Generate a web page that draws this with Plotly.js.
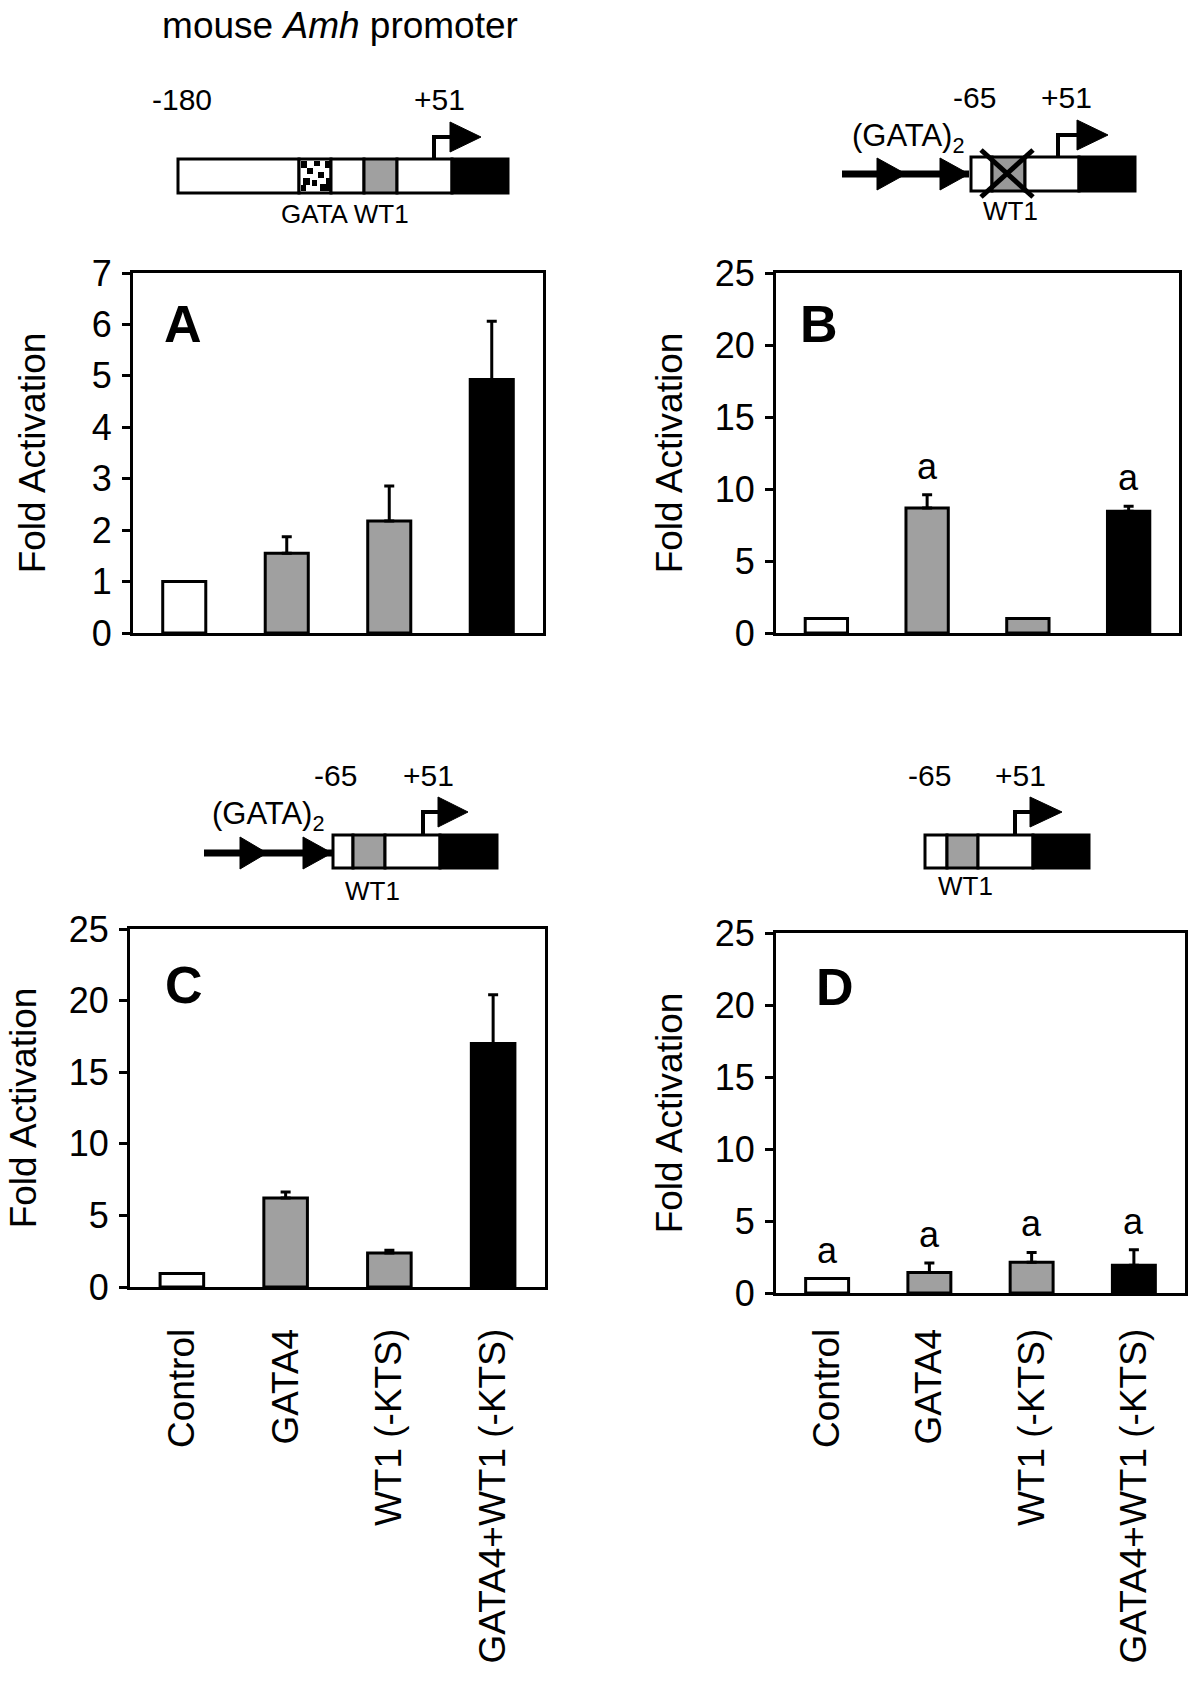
<!DOCTYPE html>
<html><head><meta charset="utf-8">
<script src="https://cdn.plot.ly/plotly-3.0.1.min.js"></script>
<style>html,body{margin:0;padding:0;background:#fff}</style>
</head><body><div id="chart" style="width:1200px;height:1685px"></div>
<script>
// ---------- data ----------
const categories = ["Control", "GATA4", "WT1 (-KTS)", "GATA4+WT1 (-KTS)"];
const barColors = ["#ffffff", "#a0a0a0", "#a0a0a0", "#000000"];
const valuesA = [1.0, 1.55, 2.18, 4.93];
const errA = [null, 0.32, 0.68, 1.13];
const valuesB = [1.0, 8.68, 1.0, 8.45];
const errB = [null, 0.92, null, 0.35];
const sigB = ["", "a", "", "a"];
const valuesC = [0.95, 6.22, 2.38, 17.0];
const errC = [null, 0.42, 0.18, 3.4];
const valuesD = [1.0, 1.43, 2.13, 1.92];
const errD = [null, 0.65, 0.69, 1.08];
const sigD = ["a", "a", "a", "a"];
const yTicksA = [0, 1, 2, 3, 4, 5, 6, 7];
const yTicks25 = [0, 5, 10, 15, 20, 25];
const panelLetters = ["A", "B", "C", "D"];
const yTitle = "Fold Activation";

// ---------- layout helpers ----------
const W = 1200, H = 1685;
const FONT = "Liberation Sans, Arial, Helvetica, sans-serif";
const fx = x => x / W, fy = y => 1 - y / H;

// subplot frames in page pixels [x0, x1, yTop, yBottom]
const frames = [[133, 543, 273, 633], [776, 1179, 273, 633], [130, 545, 929, 1287], [776, 1185, 933, 1293]];

function barTrace(vals, errs, i) {
  const s = i === 0 ? "" : String(i + 1);
  return {
    type: "bar", x: categories, y: vals, xaxis: "x" + s, yaxis: "y" + s, width: 0.42,
    marker: {color: barColors, line: {color: "#000", width: 3}},
    error_y: {type: "data", symmetric: false, array: errs, arrayminus: errs.map(() => 0),
      color: "#000", thickness: 3, width: 5, visible: true},
    hoverinfo: "none", showlegend: false
  };
}
const data = [barTrace(valuesA, errA, 0), barTrace(valuesB, errB, 1), barTrace(valuesC, errC, 2), barTrace(valuesD, errD, 3)];

const layout = {
  width: W, height: H, margin: {l: 0, r: 0, t: 0, b: 0},
  paper_bgcolor: "#fff", plot_bgcolor: "#fff", showlegend: false,
  font: {family: FONT, color: "#000"},
  title: {text: "mouse <i>Amh</i> promoter", font: {family: FONT, size: 37, color: "#000"},
    xref: "paper", yref: "paper", x: fx(340), xanchor: "center", y: fy(25), yanchor: "middle"},
  annotations: [], shapes: []
};

const yRanges = [[0, 7], [0, 25], [0, 25], [0, 25]];
const yTickSets = [yTicksA, yTicks25, yTicks25, yTicks25];
const titleStand = [35, 21, 21, 21];
const xStand = [0, 0, 24, 18];
frames.forEach((f, i) => {
  const s = i === 0 ? "" : String(i + 1);
  layout["xaxis" + s] = {
    domain: [fx(f[0]), fx(f[1])], range: [-0.5, 3.5], type: "category", anchor: "y" + s,
    showline: true, linewidth: 3, linecolor: "#000", mirror: true, showgrid: false, zeroline: false,
    ticks: "", showticklabels: i >= 2, tickangle: -90, ticklabelstandoff: xStand[i],
    tickfont: {family: FONT, size: 37, color: "#000"}, fixedrange: true
  };
  layout["yaxis" + s] = {
    domain: [fy(f[3]), fy(f[2])], range: yRanges[i], tickvals: yTickSets[i], anchor: "x" + s,
    ticks: "outside", ticklen: 8, tickwidth: 3, tickcolor: "#000", ticklabelstandoff: 3,
    showline: true, linewidth: 3, linecolor: "#000", mirror: true, showgrid: false, zeroline: false,
    tickfont: {family: FONT, size: 36, color: "#000"}, fixedrange: true,
    title: {text: yTitle, font: {family: FONT, size: 37, color: "#000"}, standoff: titleStand[i]}
  };
});

// panel letters
const letterPos = [[183, 324], [819, 324], [184, 985], [835, 987]];
panelLetters.forEach((t, i) => {
  layout.annotations.push({text: "<b>" + t + "</b>", xref: "paper", yref: "paper",
    x: fx(letterPos[i][0]), y: fy(letterPos[i][1]), xanchor: "center", yanchor: "middle",
    showarrow: false, font: {family: FONT, size: 52, color: "#000"}});
});

// significance letters
function sig(labels, vals, errs, s) {
  labels.forEach((t, k) => {
    if (!t) return;
    layout.annotations.push({text: t, xref: "x" + s, yref: "y" + s, x: categories[k],
      y: vals[k] + (errs[k] || 0), xanchor: "center", yanchor: "bottom", yshift: 6,
      showarrow: false, font: {family: FONT, size: 36, color: "#000"}});
  });
}
sig(sigB, valuesB, errB, "2");
sig(sigD, valuesD, errD, "4");

// ---------- promoter schematics (page pixels, decorative) ----------
const GRAY = "#a0a0a0";
const shapes = layout.shapes;
function rect(x0, x1, y0, y1, fill, lw) {
  shapes.push({type: "rect", xref: "paper", yref: "paper", x0: fx(x0), x1: fx(x1), y0: fy(y1), y1: fy(y0),
    fillcolor: fill, line: {color: "#000", width: lw}});
}
function path(pts, fill, lw) {
  const d = pts.map((p, i) => (i ? "L" : "M") + fx(p[0]) + "," + fy(p[1])).join(" ") + (fill ? " Z" : "");
  shapes.push({type: "path", xref: "paper", yref: "paper", path: d,
    fillcolor: fill || "rgba(0,0,0,0)", line: {color: "#000", width: lw}});
}
function seg(x0, y0, x1, y1, lw) {
  shapes.push({type: "line", xref: "paper", yref: "paper", x0: fx(x0), y0: fy(y0), x1: fx(x1), y1: fy(y1),
    line: {color: "#000", width: lw}});
}
function txt(t, x, y, size, xanchor) {
  layout.annotations.push({text: t, xref: "paper", yref: "paper", x: fx(x), y: fy(y),
    xanchor: xanchor || "center", yanchor: "middle", showarrow: false,
    font: {family: FONT, size: size, color: "#000"}});
}
function tss(x, yBox, yTop, xh, tri) {
  path([[x, yBox], [x, yTop], [xh + 2, yTop]], null, 4);
  path([[tri[0], tri[1]], [tri[0], tri[2]], [tri[3], (tri[1] + tri[2]) / 2]], "#000", 1);
}
function gataArrows(x0, x1, y, tris) {
  seg(x0, y, x1, y, 7);
  tris.forEach(t => path([[t[0], y - 16], [t[0], y + 16], [t[1], y]], "#000", 1));
}
function boxes(y0, y1, segs) { segs.forEach(s => rect(s[0], s[1], y0, y1, s[2], 3)); }

// Diagram A
boxes(159, 193, [[178, 299, "#fff"], [299, 331, "#fff"], [331, 364, "#fff"], [364, 397, GRAY], [397, 452, "#fff"], [452, 508, "#000"]]);
[[301, 161, 307, 168], [314, 161, 320, 166], [325, 161, 330, 168], [307, 168, 313, 174], [318, 172, 324, 178],
 [303, 178, 310, 185], [320, 184, 326, 191], [301, 185, 306, 191], [326, 178, 330, 191], [312, 180, 317, 186]]
  .forEach(q => rect(q[0], q[2], q[1], q[3], "#000", 0));
tss(434, 159, 137, 450, [450, 122, 152, 481]);
txt("-180", 182, 99, 30);
txt("+51", 440, 99, 30);
txt("GATA WT1", 345, 214, 26);

// Diagram B
gataArrows(842, 969, 174, [[877, 906], [940, 969]]);
boxes(157, 191, [[971, 992, "#fff"], [992, 1025, "#999999"], [1025, 1079, "#fff"], [1079, 1135, "#000"]]);
seg(981, 150, 1033, 197, 5);
seg(1033, 150, 981, 197, 5);
tss(1058, 157, 135, 1077, [1077, 120, 150, 1108]);
txt("-65", 974, 97, 30);
txt("+51", 1066, 97, 30);
txt("(GATA)<sub>2</sub>", 850, 138, 31, "left");
txt("WT1", 1010, 211, 26);

// Diagram C
gataArrows(204, 333, 853, [[240, 267], [303, 332]]);
boxes(835, 868, [[333, 353, "#fff"], [353, 385, GRAY], [385, 440, "#fff"], [440, 497, "#000"]]);
tss(423, 835, 812, 438, [438, 797, 827, 468]);
txt("-65", 335, 775, 30);
txt("+51", 428, 775, 30);
txt("(GATA)<sub>2</sub>", 210, 816, 31, "left");
txt("WT1", 372, 891, 26);

// Diagram D
boxes(835, 868, [[925, 947, "#fff"], [947, 978, GRAY], [978, 1033, "#fff"], [1033, 1089, "#000"]]);
tss(1015, 835, 812, 1030, [1030, 797, 827, 1062]);
txt("-65", 929, 775, 30);
txt("+51", 1020, 775, 30);
txt("WT1", 965, 886, 26);

Plotly.newPlot("chart", data, layout, {staticPlot: true, displayModeBar: false});
</script></body></html>
